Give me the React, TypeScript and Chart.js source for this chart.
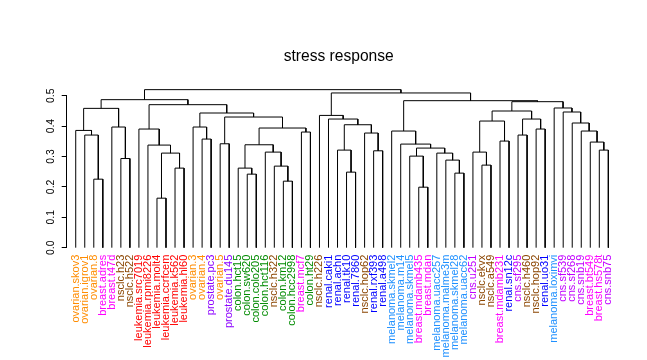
import React, { useEffect, useRef } from "react";
import { Chart, registerables } from "chart.js";

Chart.register(...registerables);

const chartTitle = "stress response";

const leafLabels = [
  "ovarian.skov3", "ovarian.igrov1", "ovarian.8", "breast.adres", "breast.t47d",
  "nsclc.h23", "nsclc.h522", "leukemia.src7019", "leukemia.rpmi8226", "leukemia.molt4",
  "leukemia.ccrfcem", "leukemia.k562", "leukemia.hl60", "ovarian.3", "ovarian.4",
  "prostate.pc3", "ovarian.5", "prostate.du145", "colon.hct15", "colon.sw620",
  "colon.colo205", "colon.hct116", "nsclc.h322", "colon.km12", "colon.hcc2998",
  "breast.mcf7", "colon.ht29", "nsclc.h226", "renal.caki1", "renal.achn",
  "renal.tk10", "renal.7860", "nsclc.hop62", "renal.rxf393", "renal.a498",
  "melanoma.skmel2", "melanoma.m14", "melanoma.skmel5", "breast.mdamb435", "breast.mdan",
  "melanoma.uacc257", "melanoma.malme3m", "melanoma.skmel28", "melanoma.uacc62", "cns.u251",
  "nsclc.ekvx", "nsclc.a549", "breast.mdamb231", "renal.sn12c", "cns.sf295",
  "nsclc.h460", "nsclc.hop92", "renal.uo31", "melanoma.loximvi", "cns.sf539",
  "cns.sf268", "cns.snb19", "breast.bt549", "breast.hs578t", "cns.snb75",
];

// hclust-style merge table: negative = leaf (1-based position), positive = earlier merge step
const mergeLeft = [
  -3, -2, -1, -6, -5, 3, -10, -12, 7, -9,
  -8, -15, -14, -17, -20, -19, -24, -23, -22, 16,
  -26, 20, 14, 13, 11, 6, -31, -30, -34, -33,
  28, -29, -28, -39, -38, -43, -42, -41, 35, -37,
  -36, -46, -45, -48, 43, -50, -52, 46, 45, -59,
  -58, -57, -56, -55, -54, 49, 41, 33, 26,
];
const mergeRight = [
  -4, 1, 2, -7, 4, 5, -11, -13, 8, 9,
  10, -16, 12, -18, -21, 15, -25, 17, 18, 19,
  -27, 21, 22, 23, 24, 25, -32, 27, -35, 29,
  30, 31, 32, -40, 34, -44, 36, 37, 38, 39,
  40, -47, 42, -49, 44, -51, -53, 47, 48, -60,
  50, 51, 52, 53, 54, 55, 56, 57, 58,
];
const mergeHeight = [
  0.2255, 0.3706, 0.3858, 0.2934, 0.397, 0.4584, 0.1629, 0.2618, 0.3112, 0.3376,
  0.3904, 0.3574, 0.397, 0.3419, 0.242, 0.2618, 0.2189, 0.2684, 0.3145, 0.3386,
  0.3805, 0.3937, 0.4299, 0.4431, 0.4705, 0.487, 0.2486, 0.3211, 0.3188, 0.3772,
  0.4045, 0.4233, 0.4352, 0.1991, 0.3013, 0.2453, 0.2882, 0.3112, 0.3277, 0.3409,
  0.3838, 0.2717, 0.3145, 0.3508, 0.4167, 0.3706, 0.3904, 0.4233, 0.4497, 0.3211,
  0.3475, 0.3838, 0.4102, 0.4464, 0.4596, 0.4804, 0.4837, 0.5091, 0.52,
];

const yTicks = [0, 0.1, 0.2, 0.3, 0.4, 0.5];

const tissueColors: Record<string, string> = {
  ovarian: "#FF8C00",
  breast: "#FF00FF",
  nsclc: "#8B4500",
  leukemia: "#FF0000",
  prostate: "#8B00FF",
  colon: "#008B00",
  renal: "#0000FF",
  melanoma: "#1E90FF",
  cns: "#C000FF",
};

const FONT = "'Liberation Sans', Arial, Helvetica, sans-serif";

function leafColor(i: number): string {
  const lab = leafLabels[i] || "";
  return tissueColors[lab.split(".")[0]] || "#000000";
}

export default function App() {
  const ref = useRef<HTMLCanvasElement | null>(null);

  useEffect(() => {
    document.body.style.margin = "0";
    const canvas = ref.current;
    if (!canvas) return;

    const nodeX: number[] = [];
    const nodeH: number[] = [];
    const pos = (id: number) =>
      id < 0 ? { x: -id, h: 0 } : { x: nodeX[id - 1], h: nodeH[id - 1] };

    const datasets = mergeHeight.map((h, i) => {
      const a = pos(mergeLeft[i]);
      const b = pos(mergeRight[i]);
      nodeX[i] = (a.x + b.x) / 2;
      nodeH[i] = h;
      return {
        data: [
          { x: a.x, y: a.h },
          { x: a.x, y: h },
          { x: b.x, y: h },
          { x: b.x, y: b.h },
        ],
        showLine: true,
        borderColor: "#000000",
        borderWidth: 1,
        pointRadius: 0,
        pointHoverRadius: 0,
        fill: false,
        tension: 0,
        clip: false as any,
      };
    });

    const chart = new Chart(canvas, {
      type: "scatter",
      data: { datasets },
      options: {
        responsive: false,
        animation: false,
        events: [],
        layout: { padding: { left: 40, right: 9.6, top: 0, bottom: 0 } },
        plugins: {
          legend: { display: false },
          tooltip: { enabled: false },
          title: {
            display: true,
            text: chartTitle,
            color: "#000000",
            font: { family: FONT, size: 15.6, weight: "normal" },
            padding: { top: 47.2, bottom: 29.8 },
          },
        },
        scales: {
          x: {
            type: "linear",
            min: 0,
            max: 63.22,
            afterBuildTicks: (scale: any) => {
              scale.ticks = leafLabels.map((_, i) => ({ value: i + 1 }));
            },
            afterFit: (scale: any) => {
              scale.height = 112.3;
            },
            grid: { display: false, drawTicks: false },
            border: { display: false },
            ticks: {
              autoSkip: false,
              minRotation: 90,
              maxRotation: 90,
              padding: 7,
              font: { family: FONT, size: 11 },
              color: (ctx: any) => leafColor((ctx.tick ? ctx.tick.value : ctx.index + 1) - 1),
              callback: (v: any) => leafLabels[Number(v) - 1] ?? "",
            },
          },
          y: {
            type: "linear",
            min: 0,
            max: 0.5,
            afterBuildTicks: (scale: any) => {
              scale.ticks = yTicks.map((v) => ({ value: v }));
            },
            afterFit: (scale: any) => {
              scale.width = 26.7;
            },
            grid: {
              drawOnChartArea: false,
              drawTicks: true,
              tickLength: 5,
              color: "#000000",
              lineWidth: 1,
            },
            border: { display: true, color: "#000000", width: 1 },
            ticks: {
              autoSkip: false,
              minRotation: 90,
              maxRotation: 90,
              crossAlign: "center",
              padding: 3,
              color: "#000000",
              font: { family: FONT, size: 10.4 },
              callback: (v: any) => Number(v).toFixed(1),
            },
          },
        },
      } as any,
    });

    return () => chart.destroy();
  }, []);

  return <canvas ref={ref} width={647} height={360} style={{ display: "block" }} />;
}
